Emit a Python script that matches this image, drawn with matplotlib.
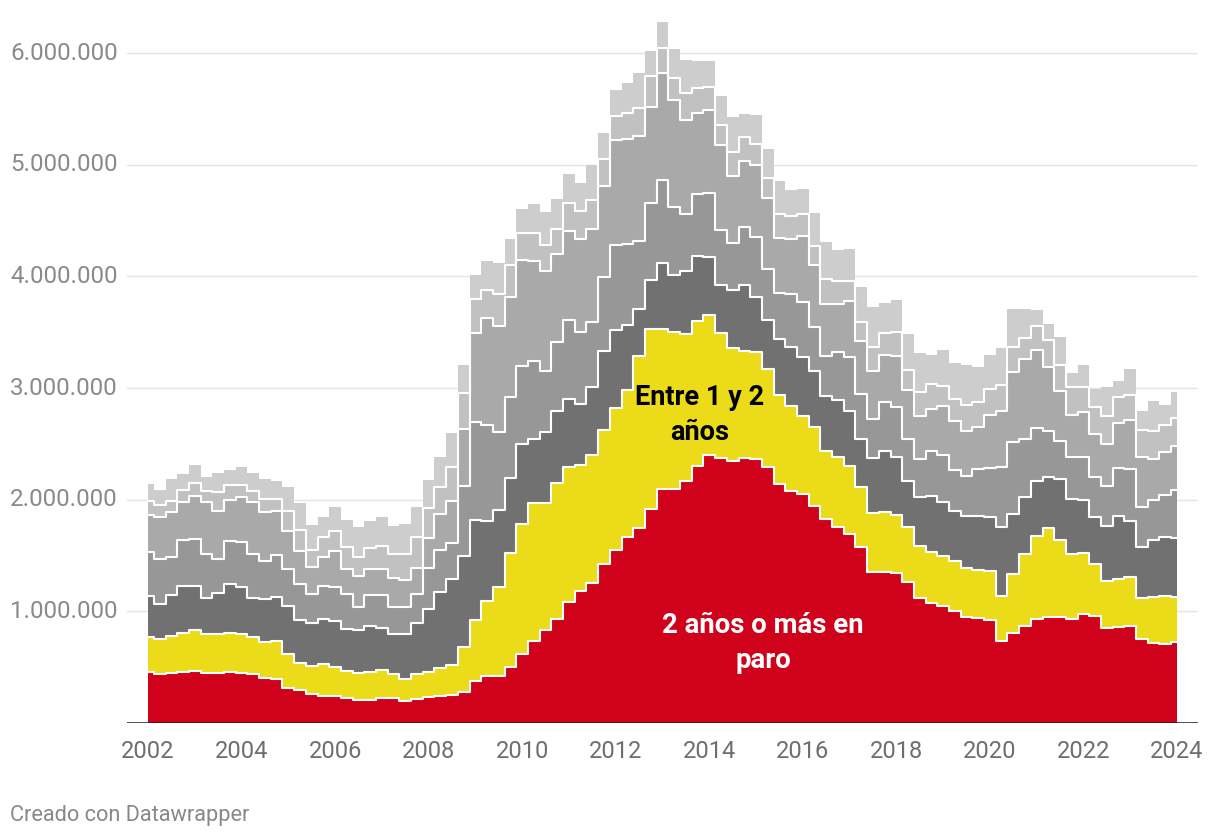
import numpy as np
import matplotlib
matplotlib.use("Agg")
import matplotlib.pyplot as plt
from matplotlib.transforms import blended_transform_factory

plt.rcParams["font.family"] = ["Roboto", "DejaVu Sans"]

# EPA quarters, 2002T1 .. 2024T1 (89 points), values in thousands of people
quarters = 2002 + 0.25 * np.arange(89)

dos_anos_o_mas = [
    457, 436, 445, 460, 466, 451, 451, 460, 451, 436,
    401, 392, 317, 293, 263, 242, 242, 227, 203, 203,
    221, 221, 197, 212, 231, 240, 253, 280, 375, 420,
    423, 505, 618, 730, 833, 935, 1084, 1186, 1255, 1426,
    1552, 1665, 1750, 1920, 2100, 2100, 2170, 2300, 2404, 2370,
    2350, 2371, 2365, 2290, 2141, 2081, 2051, 1946, 1827, 1752,
    1692, 1580, 1355, 1348, 1339, 1259, 1120, 1079, 1045, 1004,
    945, 939, 921, 735, 810, 870, 930, 945, 945, 930,
    975, 960, 849, 861, 870, 750, 720, 711, 729,
]
entre_1_y_2_anos = [
    314, 314, 335, 350, 365, 344, 350, 350, 350, 335,
    325, 343, 299, 248, 248, 284, 260, 239, 248, 257,
    251, 215, 195, 228, 224, 250, 262, 400, 548, 673,
    795, 1015, 1168, 1242, 1139, 1218, 1213, 1129, 1145, 1197,
    1270, 1318, 1535, 1605, 1427, 1400, 1316, 1300, 1246, 1120,
    1010, 965, 956, 882, 801, 762, 702, 703, 612, 628,
    613, 537, 527, 538, 526, 499, 463, 456, 455, 443,
    442, 430, 442, 404, 523, 643, 747, 801, 693, 583,
    544, 463, 419, 428, 439, 374, 410, 428, 401,
]
de_6_meses_a_1_ano = [
    368, 314, 368, 419, 398, 329, 359, 434, 413, 353,
    383, 395, 433, 380, 389, 404, 413, 374, 380, 410,
    383, 365, 409, 460, 565, 680, 775, 820, 894, 715,
    691, 676, 709, 575, 637, 641, 606, 543, 607, 713,
    694, 578, 425, 439, 593, 515, 566, 580, 520, 430,
    520, 584, 494, 439, 499, 529, 524, 508, 494, 514,
    493, 427, 488, 553, 521, 412, 444, 495, 476, 448,
    470, 488, 485, 619, 538, 508, 493, 460, 547, 493,
    478, 419, 499, 568, 503, 454, 508, 523, 526,
]
de_3_a_6_meses = [
    389, 404, 335, 409, 418, 389, 308, 388, 403, 389,
    338, 377, 329, 323, 254, 299, 299, 314, 212, 278,
    293, 242, 239, 255, 370, 380, 326, 625, 878, 862,
    700, 721, 699, 696, 548, 616, 708, 643, 583, 658,
    762, 732, 607, 694, 741, 607, 510, 561, 577, 500,
    416, 523, 538, 458, 410, 467, 493, 389, 350, 428,
    479, 406, 353, 434, 442, 374, 338, 409, 424, 371,
    358, 418, 436, 538, 643, 523, 473, 413, 344, 380,
    383, 364, 359, 427, 463, 359, 359, 383, 431,
]
de_1_a_3_meses = [
    337, 380, 403, 338, 389, 463, 433, 365, 404, 463,
    439, 394, 344, 299, 239, 254, 329, 224, 275, 230,
    230, 260, 240, 234, 270, 325, 370, 508, 801, 956,
    949, 894, 956, 894, 888, 795, 796, 837, 838, 813,
    942, 942, 939, 861, 962, 962, 843, 724, 742, 760,
    604, 587, 643, 637, 490, 499, 589, 553, 472, 433,
    502, 473, 428, 427, 455, 440, 388, 371, 435, 443,
    404, 374, 478, 502, 628, 718, 699, 568, 449, 376,
    403, 383, 373, 401, 440, 443, 368, 385, 397,
]
menos_de_1_mes = [
    126, 107, 105, 111, 110, 99, 165, 135, 111, 105,
    120, 105, 179, 185, 156, 179, 179, 194, 165, 189,
    209, 210, 230, 281, 270, 235, 308, 322, 304, 253,
    281, 295, 240, 249, 232, 223, 251, 245, 254, 248,
    215, 230, 248, 275, 219, 189, 239, 224, 209, 174,
    215, 220, 194, 179, 220, 200, 197, 170, 224, 203,
    179, 167, 218, 192, 218, 179, 210, 227, 187, 191,
    230, 224, 231, 233, 224, 188, 210, 239, 224, 245,
    224, 245, 254, 233, 227, 245, 254, 243, 248,
]
ya_encontro_empleo = [
    150, 135, 194, 143, 168, 131, 173, 134, 164, 158,
    179, 158, 210, 239, 224, 180, 209, 249, 275, 239,
    261, 248, 270, 266, 250, 268, 301, 248, 210, 256,
    281, 228, 218, 265, 304, 266, 257, 254, 314, 231,
    233, 269, 320, 227, 239, 267, 296, 241, 232, 266,
    317, 202, 254, 260, 295, 239, 230, 299, 329, 281,
    290, 317, 359, 269, 284, 323, 355, 263, 320, 320,
    353, 314, 307, 329, 344, 260, 143, 150, 254, 129,
    195, 159, 260, 149, 230, 173, 263, 179, 231,
]

layers = [dos_anos_o_mas, entre_1_y_2_anos, de_6_meses_a_1_ano, de_3_a_6_meses,
          de_1_a_3_meses, menos_de_1_mes, ya_encontro_empleo]
colors = ["#d0021b", "#ebdb19", "#717171", "#979797", "#a9a9a9", "#c1c1c1", "#cdcdcd"]

year_ticks = list(range(2002, 2025, 2))
value_ticks = [1e6, 2e6, 3e6, 4e6, 5e6, 6e6]

fig = plt.figure(figsize=(12.2, 8.4), dpi=100)
ax = fig.add_axes([127 / 1220, 1 - 723 / 840, 1071 / 1220, 703.4 / 840])

cum = np.cumsum(np.array(layers, dtype=float), axis=0) * 1000
bottom = np.zeros(len(quarters))
for top, color in zip(cum, colors):
    ax.fill_between(quarters, bottom, top, step="mid", color=color, linewidth=0, zorder=2)
    bottom = top
for top in cum[:-1]:
    ax.step(quarters, top, where="mid", color="white", linewidth=1.5, zorder=3)

for v in value_ticks:
    ax.axhline(v, color="#e5e5e5", linewidth=1, zorder=1)
ax.axhline(0, color="#1a1a1a", linewidth=1.8, zorder=4)

ax.set_xlim(2002 - 21 / 46.77, 2024 + 21 / 46.77)
ax.set_ylim(0, 6.3e6)
for s in ax.spines.values():
    s.set_visible(False)

ax.set_yticks([])
ax.set_xticks(year_ticks)
ax.set_xticklabels([str(y) for y in year_ticks])
ax.tick_params(axis="x", length=0, pad=12, labelsize=17, labelcolor="#6e6e6e")

trans = blended_transform_factory(fig.transFigure, ax.transData)
for v in value_ticks:
    ax.text(10 / 1220, v, f"{int(v):,}".replace(",", "."), transform=trans,
            ha="left", va="center", fontsize=17.4, color="#8a8a8a")

ax.text(2013.8, 2.76e6, "Entre 1 y 2\naños", ha="center", va="center",
        fontsize=19.5, fontweight="bold", color="black", linespacing=1.38, zorder=5)
ax.text(2015.15, 0.72e6, "2 años o más en\nparo", ha="center", va="center",
        fontsize=19.8, fontweight="bold", color="white", linespacing=1.38, zorder=5)

fig.text(10 / 1220, 1 - 816 / 840, "Creado con Datawrapper", ha="left", va="center",
         fontsize=15.7, color="#888888")

fig.savefig("out.png", dpi=100)
